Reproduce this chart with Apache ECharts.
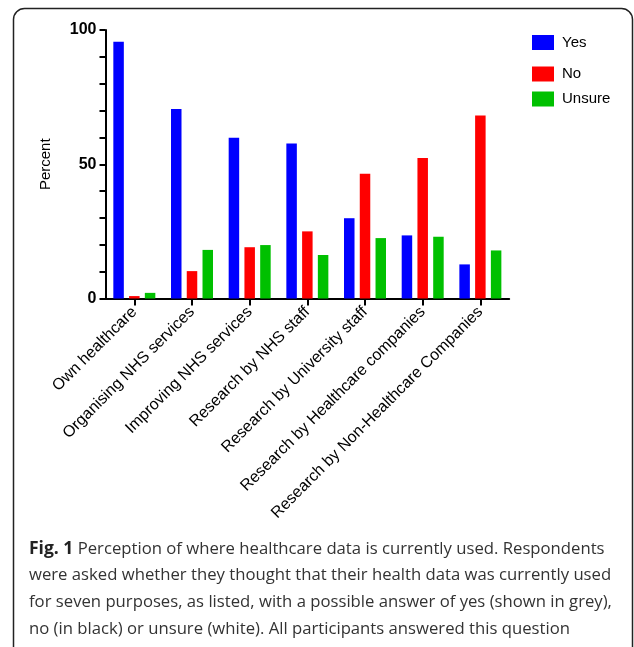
<!DOCTYPE html>
<html>
<head>
<meta charset="utf-8">
<script src="https://cdn.jsdelivr.net/npm/echarts@6/dist/echarts.min.js"></script>
<style>
html,body{margin:0;padding:0;background:#fff;}
#chart{width:634px;height:647px;}
</style>
</head>
<body>
<div id="chart"></div>
<script>
var categories = ['Own healthcare', 'Organising NHS services', 'Improving NHS services', 'Research by NHS staff', 'Research by University staff', 'Research by Healthcare companies', 'Research by Non-Healthcare Companies'];
var seriesNames = ['Yes', 'No', 'Unsure'];
var yesValues = [95.6, 70.6, 59.9, 57.7, 29.9, 23.5, 12.7];
var noValues = [0.9, 10.2, 19.1, 25.0, 46.5, 52.3, 68.2];
var unsureValues = [2.1, 18.1, 19.9, 16.2, 22.5, 23.0, 17.9];
var yTickLabels = ['0', '50', '100'];
var yAxisTitle = 'Percent';
var captionBold = 'Fig. 1';
var captionLines = [
  ' Perception of where healthcare data is currently used. Respondents',
  'were asked whether they thought that their health data was currently used',
  'for seven purposes, as listed, with a possible answer of yes (shown in grey),',
  'no (in black) or unsure (white). All participants answered this question'
];

var colors = ['#0000ff', '#ff0000', '#00c000'];
var chart = echarts.init(document.getElementById('chart'), null, {renderer: 'canvas'});

var legendTops = [35, 66.5, 91.5];
var legends = seriesNames.map(function (n, i) {
  return {
    data: [n], left: 532, top: legendTops[i], orient: 'vertical', padding: 0,
    itemWidth: 22, itemHeight: 15, icon: 'rect',
    textStyle: {fontFamily: 'Liberation Sans', fontSize: 15, color: '#000', padding: [0, 0, 0, 3]},
    selectedMode: false
  };
});

var captionGraphics = captionLines.map(function (line, i) {
  return {
    type: 'text', left: 29, top: 540 + i * 27,
    style: {
      text: i === 0 ? '{b|' + captionBold + '}' + line : line,
      fontFamily: 'Open Sans', fontSize: 16.7, fill: '#333',
      rich: {b: {fontFamily: 'Open Sans', fontWeight: 'bold', fontSize: 17.5, fill: '#222'}}
    }
  };
});

var allData = [yesValues, noValues, unsureValues];

chart.setOption({
  animation: false,
  color: colors,
  legend: legends,
  grid: {left: 105.5, right: 124.8, top: 30, bottom: 348.5, containLabel: false},
  xAxis: {
    type: 'category', data: categories,
    axisLine: {lineStyle: {color: '#000', width: 2}},
    axisTick: {show: true, length: 7, lineStyle: {color: '#000', width: 2}, alignWithLabel: true},
    axisLabel: {rotate: 45, interval: 0, margin: 11, fontFamily: 'Liberation Sans', fontSize: 16, color: '#000'}
  },
  yAxis: {
    type: 'value', min: 0, max: 100, interval: 10,
    name: yAxisTitle, nameLocation: 'middle', nameGap: 52, nameRotate: 90,
    nameTextStyle: {fontFamily: 'Liberation Sans', fontSize: 15, color: '#000'},
    axisLine: {show: true, lineStyle: {color: '#000', width: 2}},
    axisTick: {show: true, length: 6, lineStyle: {color: '#000', width: 2}},
    splitLine: {show: false},
    axisLabel: {
      margin: 9, fontFamily: 'Liberation Sans', fontSize: 16, fontWeight: 'bold', color: '#000',
      formatter: function (v) { var s = String(v); return yTickLabels.indexOf(s) >= 0 ? s : ''; }
    }
  },
  series: seriesNames.map(function (n, i) {
    return {name: n, type: 'bar', data: allData[i], barWidth: 10.5, barGap: '50%',
      itemStyle: {color: colors[i]}};
  }),
  graphic: [{
    type: 'rect', shape: {x: 13.5, y: 8.5, width: 619, height: 660, r: 11},
    style: {fill: 'none', stroke: '#222', lineWidth: 1.5}, silent: true
  }].concat(captionGraphics)
});
</script>
</body>
</html>
